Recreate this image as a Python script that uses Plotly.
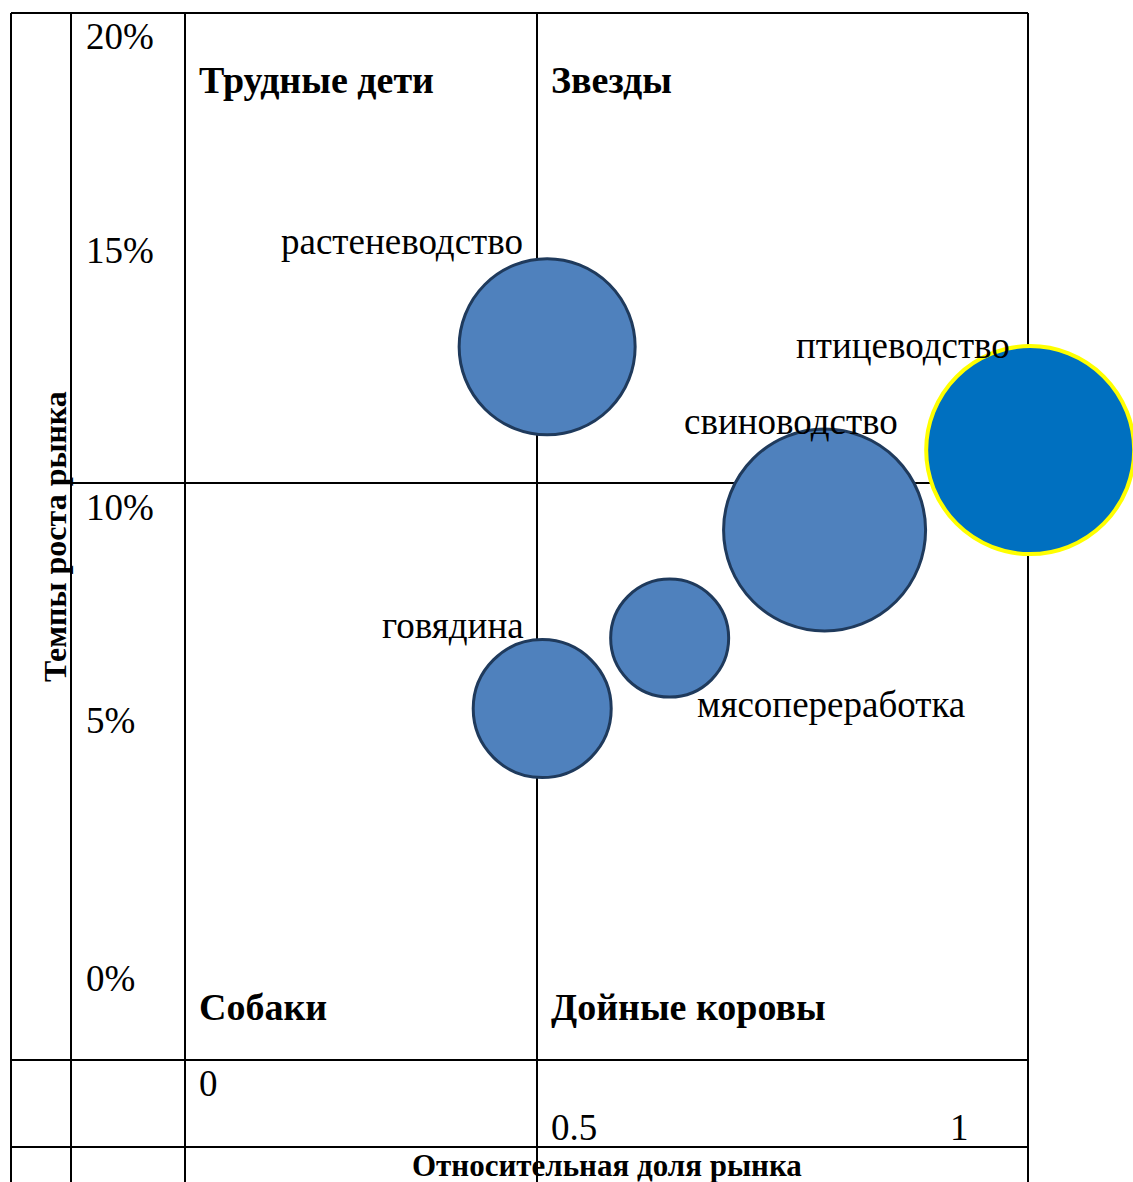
import plotly.graph_objects as go

W, H = 1133, 1182

# ---- data ----
names = ["растеневодство", "говядина", "мясопереработка", "свиноводство", "птицеводство"]
share = [0.514, 0.507, 0.688, 0.908, 1.200]      # относительная доля рынка
growth = [12.9, 5.2, 6.7, 9.0, 10.7]             # темпы роста рынка, %
volume = [176, 138, 118, 202, 208]               # размер пузыря
ytick_labels = ["20%", "15%", "10%", "5%", "0%"]
xtick_labels = ["0", "0.5", "1"]
quadrants = ["Трудные дети", "Звезды", "Собаки", "Дойные коровы"]

FONT = "Liberation Serif, Times New Roman, serif"

def px(x):
    return x / W

def py(y):
    return 1 - y / H

fig = go.Figure()

fills = ["#4F81BD"] * 4 + ["#0070C0"]
lines = ["#1F3A5C"] * 4 + ["#FFFF00"]
lw = [3, 3, 3, 3, 4]

fig.add_trace(go.Scatter(
    x=share, y=growth, mode="markers",
    marker=dict(size=volume, sizemode="diameter", sizeref=1,
                color=fills, line=dict(color=lines, width=lw), opacity=1),
    hoverinfo="text", text=names, showlegend=False,
))

# table lines (pixel layout)
def hline(y, x0, x1):
    fig.add_shape(type="line", xref="paper", yref="paper", x0=px(x0), x1=px(x1),
                  y0=py(y), y1=py(y), line=dict(color="black", width=2), layer="below")

def vline(x, y0, y1):
    fig.add_shape(type="line", xref="paper", yref="paper", x0=px(x), x1=px(x),
                  y0=py(y0), y1=py(y1), line=dict(color="black", width=2), layer="below")

hline(13, 11, 1028)
hline(483, 71, 1028)
hline(1060, 11, 1028)
hline(1147, 11, 1028)
for x in [11, 71, 185, 537, 1028]:
    vline(x, 13, H)

# tick labels
ytick_pos = [37, 250, 507, 720, 978]
for t, y in zip(ytick_labels, ytick_pos):
    fig.add_annotation(text=t, xref="paper", yref="paper", x=px(84), y=py(y),
                       xanchor="left", yanchor="middle", showarrow=False,
                       font=dict(family=FONT, size=37, color="black"))
xtick_pos = [(197, 1083, "left"), (549, 1127, "left"), (971, 1127, "right")]
for t, (x, y, a) in zip(xtick_labels, xtick_pos):
    fig.add_annotation(text=t, xref="paper", yref="paper", x=px(x), y=py(y),
                       xanchor=a, yanchor="middle", showarrow=False,
                       font=dict(family=FONT, size=37, color="black"))

# quadrant names
qpos = [(197, 80), (549, 80), (197, 1007), (549, 1007)]
for t, (x, y) in zip(quadrants, qpos):
    fig.add_annotation(text="<b>" + t + "</b>", xref="paper", yref="paper", x=px(x), y=py(y),
                       xanchor="left", yanchor="middle", showarrow=False,
                       font=dict(family=FONT, size=38, color="black"))

# bubble labels (offset from bubble centers)
offs = [(-22, 105, "right"), (-16, 83, "right"), (25, -66, "left"),
        (-143, 109, "left"), (-236, 105, "left")]
for n, sx, gy, (dx, dy, a) in zip(names, share, growth, offs):
    fig.add_annotation(text=n, x=sx, y=gy, xref="x", yref="y", xshift=dx, yshift=dy,
                       xanchor=a, yanchor="middle", showarrow=False,
                       font=dict(family=FONT, size=37, color="black"))

# axis titles
fig.add_annotation(text="<b>Темпы роста рынка</b>", xref="paper", yref="paper",
                   x=px(55), y=py(537), textangle=-90, showarrow=False,
                   xanchor="center", yanchor="middle",
                   font=dict(family=FONT, size=32, color="black"))
fig.add_annotation(text="<b>Относительная доля рынка</b>", xref="paper", yref="paper",
                   x=px(607), y=py(1165), showarrow=False,
                   xanchor="center", yanchor="middle",
                   font=dict(family=FONT, size=31, color="black"))

fig.update_layout(
    width=W, height=H, margin=dict(l=0, r=0, t=0, b=0),
    paper_bgcolor="white", plot_bgcolor="white",
    xaxis=dict(range=[-0.263, 1.346], visible=False, fixedrange=True),
    yaxis=dict(range=[-4.872, 20.277], visible=False, fixedrange=True),
    showlegend=False,
)

fig.write_html("out.html")
